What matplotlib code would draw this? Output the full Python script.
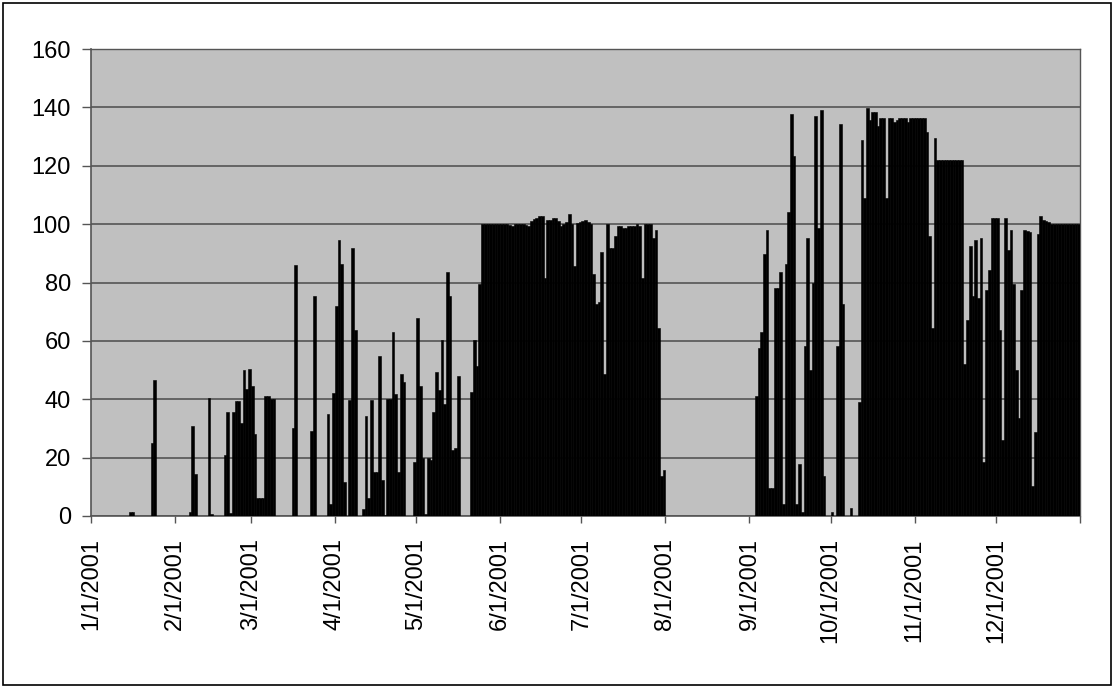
import numpy as np
import pandas as pd
import matplotlib
matplotlib.use("Agg")
import matplotlib.pyplot as plt
from matplotlib.patches import Rectangle

plt.rcParams['font.family'] = ['Liberation Sans', 'DejaVu Sans']

# daily values for 2001, one list per month
jan = [0, 0, 0, 0, 0, 0, 0, 0, 0, 0, 0, 0, 0, 0, 1.5, 1.5, 0, 0, 0, 0, 0, 0,
       25, 46.5, 0, 0, 0, 0, 0, 0, 0]
feb = [0, 0, 0, 0, 0, 1.3, 31, 14.5, 0, 0, 0, 0, 40.5, 0.7, 0, 0, 0, 0,
       21, 35.5, 1, 35.5, 39.5, 39.5, 32, 50, 43.5, 50.5]
mar = [44.5, 28, 6.2, 6.2, 6.2, 41, 41, 40, 40, 0, 0, 0, 0, 0, 0, 30, 86,
       0, 0, 0, 0, 0, 29, 75.5, 0, 0, 0, 0, 35, 4, 42]
apr = [72, 94.5, 86.3, 11.6, 0, 39.7, 91.8, 63.7, 0, 0, 2.5, 34.2, 6.2, 39.7,
       15, 15, 54.8, 12.3, 0.5, 40, 40, 63, 41.8, 15, 48.6, 45.9, 0, 0, 0, 18.5]
may = [67.8, 44.5, 20, 0.8, 20, 19.2, 35.6, 49.3, 43.2, 60.3, 38.4, 83.6, 75.3,
       22.6, 23.3, 47.9, 0, 0, 0, 0, 42.5, 60.3, 51.4, 79.5,
       100, 100, 100, 100, 100, 100, 100]
jun = [100, 100, 100, 99.8, 99.5, 100, 100, 100, 100, 99.7, 99.5, 101, 101.8,
       102, 102.7, 102.7, 81.5, 101.4, 101.4, 102, 102, 101, 99.5, 100.2,
       100.7, 103.4, 100.2, 85.6, 100.5, 100.7]
jul = [101, 101.4, 100.7, 100.2, 83, 72.6, 73.3, 90.4, 48.6, 100, 91.7, 91.7,
       95.9, 99.3, 99.3, 98.6, 98.6, 99.3, 99.3, 99.5, 100, 99.5, 81.5, 100,
       100, 100, 95.2, 97.9, 64.4, 13.7, 15.8]
aug = [0, 0, 0, 0, 0, 0, 0, 0, 0, 0, 0, 0, 0, 0, 0, 0, 0, 0, 0, 0, 0, 0, 0,
       0, 0, 0, 0, 0, 0, 0, 0]
sep = [0, 0, 41.1, 57.5, 63, 89.7, 97.9, 9.6, 9.6, 78, 78, 83.6, 4.1, 86.3,
       104, 137.7, 123.3, 4.1, 17.8, 1.4, 58.2, 95.2, 50, 80, 137, 98.6, 139,
       13.7, 0, 0]
oct_ = [1.4, 0, 58.2, 134.2, 72.6, 0, 0, 2.7, 0, 0, 39, 128.8, 108.9, 139.7,
        135.6, 138.4, 138.4, 133.6, 136.3, 136.3, 108.9, 136.3, 136.3, 135,
        135.6, 136.3, 136.3, 136.3, 135, 136.3, 136.3]
nov = [136.3, 136.3, 136.3, 136.3, 131.5, 95.9, 64.4, 129.5, 122, 122, 122,
       122, 122, 122, 122, 122, 122, 122, 52, 67.1, 92.5, 75.3, 94.5, 74.7,
       95.2, 18.5, 77.4, 84.2, 102, 102]
dec = [102, 63.7, 26, 102, 91, 98, 79.5, 50, 33.6, 77.4, 98, 97.6, 97.3, 10.3,
       28.8, 96.6, 102.7, 101.4, 101, 100.7, 100, 100, 100, 100, 100, 100, 100,
       100, 100, 100, 100]

values = jan + feb + mar + apr + may + jun + jul + aug + sep + oct_ + nov + dec
days = pd.date_range("2001-01-01", periods=len(values), freq="D")
month_starts = pd.date_range("2001-01-01", "2002-01-01", freq="MS")

fig = plt.figure(figsize=(11.15, 6.88), dpi=100)
fig.patch.set_facecolor("white")
ax = fig.add_axes([91 / 1115, 1 - 516 / 688, (1080 - 91) / 1115, (516 - 49) / 688])
ax.set_facecolor("#C0C0C0")

ax.bar(days, values, width=1.0, align="edge", color="black",
       edgecolor="black", linewidth=0.4, zorder=3)

ax.set_xlim(month_starts[0], month_starts[-1])
ax.set_ylim(0, 160)
ax.set_yticks(np.arange(0, 161, 20))
ax.grid(axis="y", color="#555555", linewidth=1.2, zorder=1)

ax.set_xticks(month_starts)
labels = [f"{t.month}/{t.day}/{t.year}" for t in month_starts[:-1]] + [""]
ax.set_xticklabels(labels, rotation=90, va="top", ha="center")

ax.tick_params(axis="both", direction="out", width=1,
               color="#555555", labelsize=17, labelcolor="black")
ax.tick_params(axis="x", length=5, pad=11)
ax.tick_params(axis="y", length=6.5, pad=8)

for side in ["left", "bottom"]:
    ax.spines[side].set_color("#555555")
    ax.spines[side].set_linewidth(1.2)
for side in ["top", "right"]:
    ax.spines[side].set_color("#555555")
    ax.spines[side].set_linewidth(1.0)

# outer chart border
fig.patches.append(Rectangle((3 / 1115, 3 / 688), 1108 / 1115, 682 / 688,
                             transform=fig.transFigure, fill=False,
                             edgecolor="black", linewidth=1.2))

fig.savefig("out.png", dpi=100)
